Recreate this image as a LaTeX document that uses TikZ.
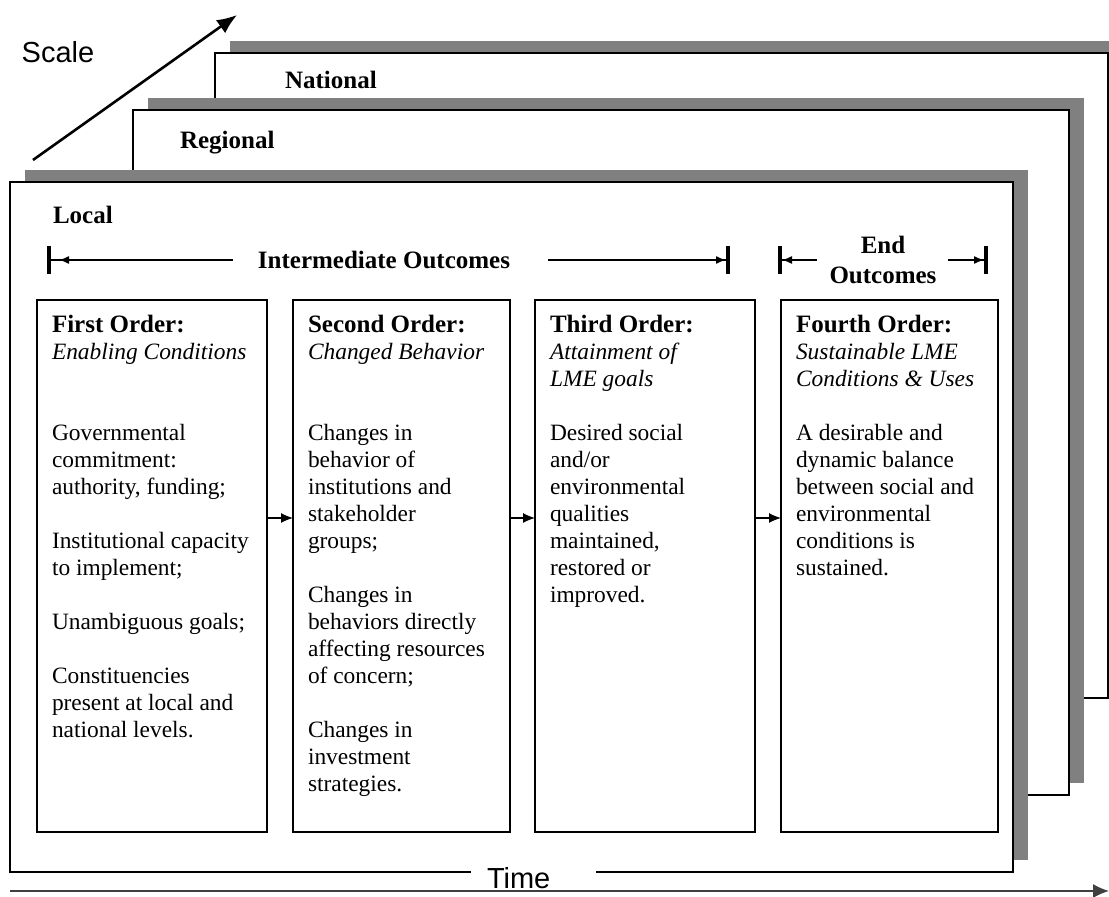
\documentclass[tikz,border=0pt]{standalone}
\usepackage{fontspec}
\setmainfont{Liberation Serif}
\newfontfamily\arialfont{Liberation Sans}
\usetikzlibrary{positioning,shadows,arrows.meta}

\newcommand{\ordhead}[1]{{\fontsize{12.5}{13.5}\selectfont\bfseries #1}}
\newcommand{\ordtext}[2]{\parbox[t][251pt][t]{#1}{\raggedright #2}}

\begin{document}
\begin{tikzpicture}[x=0.5pt,y=-0.5pt,
    tier/.style={draw,fill=white,line width=1pt,inner sep=0pt,outer sep=0pt,anchor=north west,
      drop shadow={shadow xshift=7.5pt,shadow yshift=6pt,fill=black!50,opacity=1}},
    tiername/.style={anchor=west,font=\fontsize{12.5}{13.5}\selectfont\bfseries},
    order/.style={draw,line width=1pt,inner sep=7.5pt,outer sep=0pt,font=\fontsize{11.7}{13.5}\selectfont},
    outhead/.style={align=center,font=\fontsize{12.5}{15}\selectfont\bfseries},
    span/.style={line width=0.7pt,-{Latex[length=5pt,width=4pt] Bar[width=14pt,line width=2pt]}},
    flow/.style={line width=0.6pt,-{Latex[length=6pt,width=5pt]}},
    sanslabel/.style={font=\arialfont\fontsize{14.5}{16}\selectfont},
    scalearrow/.style={line width=1.3pt,-{Latex[length=10pt,width=8pt]}},
    timearrow/.style={line width=0.7pt,black!75,-{Latex[length=8pt,width=7pt]}}]

  \useasboundingbox (0,0) rectangle (1109,897);

  \coordinate (s0) at (33,160);
  \coordinate (s1) at (237,15);
  \draw[scalearrow] (s0) -- (s1);
  \node[sanslabel] (scale) at (58,52) {Scale};

  \node[tier,minimum width=446.5pt,minimum height=322.5pt] (national) at (215,53) {};
  \node[tiername] (nationalname) at ([shift={(63,27)}]national.north west) {National};
  \node[tier,minimum width=468pt,minimum height=342.5pt] (regional) at (133,110) {};
  \node[tiername] (regionalname) at ([shift={(40,33)}]regional.north west) {Regional};
  \node[tier,minimum width=501.5pt,minimum height=345pt] (local) at (10,182) {};
  \node[tiername] (localname) at ([shift={(36,33)}]local.north west) {Local};

  \node[outhead] (inter) at (384,260) {Intermediate Outcomes};
  \coordinate (ileft) at (47,260);
  \coordinate (iright) at (730,260);
  \draw[span,shorten <=9pt,-{Latex[length=5pt,width=4pt,sep=4pt] Bar[width=14pt,line width=2pt]}] (inter) -- (ileft);
  \draw[span,shorten <=15.5pt] (inter) -- (iright);

  \node[outhead] (endout) at (883,260) {End\\Outcomes};
  \coordinate (eleft) at (778,260);
  \coordinate (eright) at (988,260);
  \draw[span,shorten <=2.5pt] (endout) -- (eleft);
  \draw[span,shorten <=2pt] (endout) -- (eright);

  \node[order,anchor=north west] (first) at (37,300) {\ordtext{100pt}{\ordhead{First Order:}\\
    \textit{Enabling Conditions}\\[27pt]
    Governmental\\ commitment:\\ authority, funding;\\[13.5pt]
    Institutional capacity\\ to implement;\\[13.5pt]
    Unambiguous goals;\\[13.5pt]
    Constituencies\\ present at local and\\ national levels.}};
  \node[order,right=13pt of first] (second) {\ordtext{93.5pt}{\ordhead{Second Order:}\\
    \textit{Changed Behavior}\\[27pt]
    Changes in\\ behavior of\\ institutions and\\ stakeholder\\ groups;\\[13.5pt]
    Changes in\\ behaviors directly\\ affecting resources\\ of concern;\\[13.5pt]
    Changes in\\ investment\\ strategies.}};
  \node[order,right=12.5pt of second] (third) {\ordtext{95pt}{\ordhead{Third Order:}\\
    \textit{Attainment of}\\ \textit{LME goals}\\[13.5pt]
    Desired social\\ and/or\\ environmental\\ qualities\\ maintained,\\ restored or\\ improved.}};
  \node[order,right=13pt of third] (fourth) {\ordtext{93.5pt}{\ordhead{Fourth Order:}\\
    \textit{Sustainable LME}\\ \textit{Conditions \& Uses}\\[13.5pt]
    A desirable and\\ dynamic balance\\ between social and\\ environmental\\ conditions is\\ sustained.}};

  \coordinate (link) at (0,518);
  \draw[flow] (first.east |- link) -- (second.west |- link);
  \draw[flow] (second.east |- link) -- (third.west |- link);
  \draw[flow] (third.east |- link) -- (fourth.west |- link);

  \node[sanslabel,fill=white,inner xsep=8pt,inner ysep=0pt,text width=46.5pt,align=left] (time) at (533.5,878) {Time};
  \coordinate (t0) at (10,891);
  \coordinate (t1) at (1109,891);
  \draw[timearrow] (t0) -- (t1);
\end{tikzpicture}
\end{document}
